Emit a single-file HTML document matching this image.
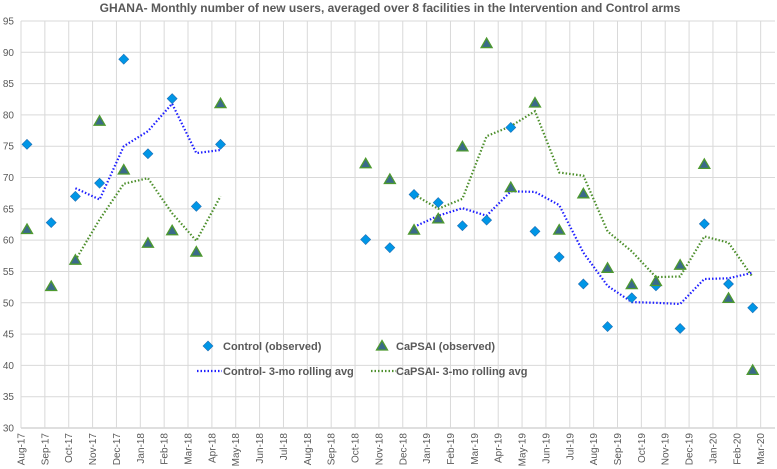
<!DOCTYPE html>
<html><head><meta charset="utf-8"><style>
body{margin:0;background:#fff;}
svg{display:block;font-family:"Liberation Sans",sans-serif;}
</style></head><body>
<svg id="chart" width="777" height="469" viewBox="0 0 777 469">
<text x="390" y="12" text-anchor="middle" font-size="12" font-weight="bold" fill="#595959">GHANA- Monthly number of new users, averaged over 8 facilities in the Intervention and Control arms</text>
<g id="grid"></g><g id="axes"></g><g id="series"></g><g id="legend"></g>
</svg>
<script>
const months = ["Aug-17","Sep-17","Oct-17","Nov-17","Dec-17","Jan-18","Feb-18","Mar-18","Apr-18","May-18","Jun-18","Jul-18","Aug-18","Sep-18","Oct-18","Nov-18","Dec-18","Jan-19","Feb-19","Mar-19","Apr-19","May-19","Jun-19","Jul-19","Aug-19","Sep-19","Oct-19","Nov-19","Dec-19","Jan-20","Feb-20","Mar-20"];
const yTicks = [30,35,40,45,50,55,60,65,70,75,80,85,90,95];
const controlObs = [75.3,62.8,67.0,69.1,88.9,73.8,82.6,65.4,75.3,null,null,null,null,null,60.1,58.8,67.3,66.0,62.3,63.2,78.0,61.4,57.3,53.0,46.2,50.8,52.7,45.9,62.6,53.0,49.2];
const capsaiObs = [61.7,52.6,56.8,79.0,71.2,59.5,61.5,58.1,81.8,null,null,null,null,null,72.2,69.7,61.6,63.4,74.9,91.4,68.4,81.9,61.6,67.4,55.5,52.9,53.4,56.0,72.1,50.7,39.2];
const controlAvg = [null,null,68.3,66.5,75.0,77.4,81.8,73.9,74.4,null,null,null,null,null,null,null,62.1,63.9,65.1,63.9,67.8,67.7,65.6,58.0,52.7,50.1,50.0,49.8,53.8,53.9,54.8];
const capsaiAvg = [null,null,56.8,63.3,69.0,69.9,64.3,59.9,67.0,null,null,null,null,null,null,null,67.3,65.0,66.6,76.6,78.2,80.6,70.8,70.3,61.4,58.2,54.1,54.2,60.6,59.6,54.1];

const NS="http://www.w3.org/2000/svg";
const X0=21, X1=775, Y0=428, Y1=21, GSTEP=23.86, PSTEP=24.19, POFF=6;
const yS=v=>Y0-(v-30)*(Y0-Y1)/65;
const gx=i=>X0+i*GSTEP;
const px=i=>X0+POFF+i*PSTEP;
function mk(tag,attrs,parent){const e=document.createElementNS(NS,tag);for(const k in attrs)e.setAttribute(k,attrs[k]);parent.appendChild(e);return e;}
const grid=document.getElementById('grid'),axes=document.getElementById('axes'),ser=document.getElementById('series'),leg=document.getElementById('legend');

yTicks.forEach(t=>{
  const l=mk('line',{x1:X0,x2:X1,y1:yS(t),y2:yS(t),stroke:t===30?'#bfbfbf':'#d9d9d9','stroke-width':1},grid);
  
  
  const tx=mk('text',{x:14,y:yS(t)+3.5,'text-anchor':'end','font-size':10,fill:'#595959'},axes);
  tx.textContent=t;
  
  
});
months.forEach((m,i)=>{
  const x=gx(i);
  const l=mk('line',{x1:x,x2:x,y1:Y1,y2:Y0,stroke:'#d9d9d9','stroke-width':1},grid);
  
  
  const tx=mk('text',{x:0,y:0,'text-anchor':'end','font-size':10,fill:'#595959',transform:`translate(${x+3.5},433) rotate(-90)`},axes);
  tx.textContent=m;
  
  
});

function line(arr,color,name){
  let segs=[],cur=[];
  arr.forEach((v,i)=>{if(v==null){if(cur.length)segs.push(cur);cur=[];}else cur.push(px(i).toFixed(1)+','+yS(v).toFixed(1));});
  if(cur.length)segs.push(cur);
  segs.forEach(s=>{
    const p=mk('polyline',{points:s.join(' '),fill:'none',stroke:color,'stroke-width':2.2,'stroke-dasharray':'1.5 2'},ser);
    
    
  });
}
function diamond(x,y,parent){return mk('path',{d:`M${x},${y-5}L${x+5},${y}L${x},${y+5}L${x-5},${y}Z`,fill:'#0096e6',stroke:'#1f6fb5','stroke-width':0.6},parent);}
function tri(x,y,parent){return mk('path',{d:`M${x},${y-5.5}L${x+5.5},${y+4}L${x-5.5},${y+4}Z`,fill:'#3a6a8a',stroke:'#4e9a2f','stroke-width':1.3},parent);}

line(controlAvg,'#1f1fff','control-rolling-avg-line');
line(capsaiAvg,'#4d8f2c','capsai-rolling-avg-line');
controlObs.forEach((v,i)=>{if(v==null)return;const d=diamond(px(i),yS(v),ser);
  
  });
capsaiObs.forEach((v,i)=>{if(v==null)return;const t=tri(px(i),yS(v),ser);
  
  });

// legend
const e1=diamond(208,346,leg);


const e2=tri(382,346,leg);


const l1=mk('line',{x1:197,x2:222,y1:371,y2:371,stroke:'#1f1fff','stroke-width':2.2,'stroke-dasharray':'1.5 2'},leg);


const l2=mk('line',{x1:371,x2:396,y1:371,y2:371,stroke:'#4d8f2c','stroke-width':2.2,'stroke-dasharray':'1.5 2'},leg);


[["Control (observed)",223,350,'legend-control-label'],["CaPSAI (observed)",396,350,'legend-capsai-label'],["Control- 3-mo rolling avg",223,375,'legend-control-avg-label'],["CaPSAI- 3-mo rolling avg",396,375,'legend-capsai-avg-label']].forEach(a=>{
  const t=mk('text',{x:a[1],y:a[2],'font-size':11,'font-weight':'bold',fill:'#595959'},leg);
  t.textContent=a[0];
  
  
});
</script>
</body></html>
